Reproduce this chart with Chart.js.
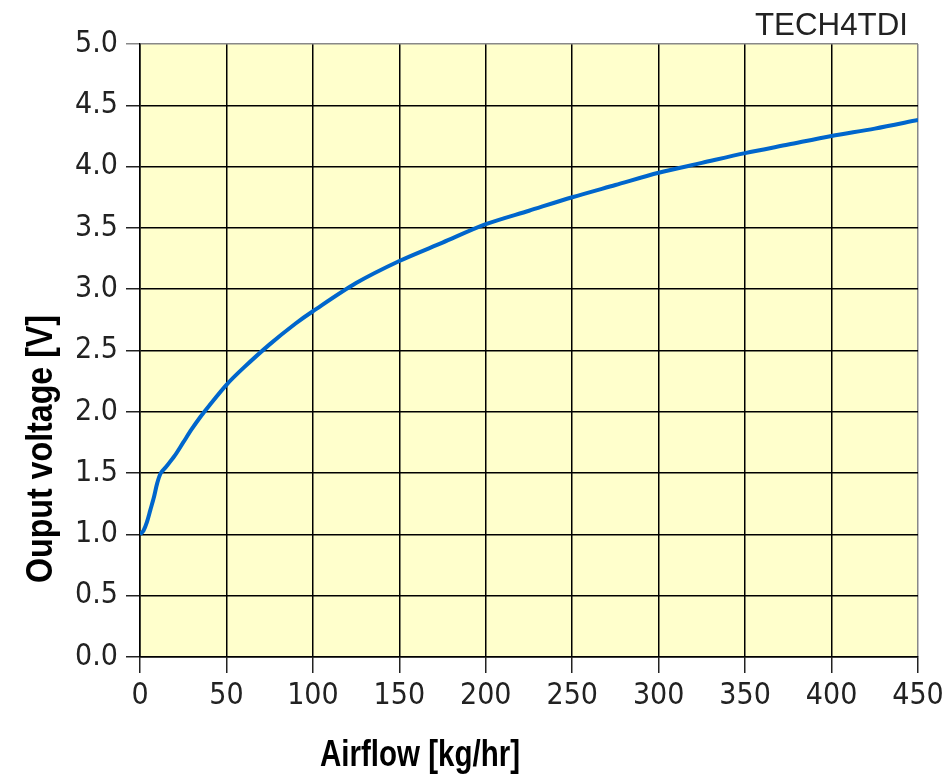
<!DOCTYPE html>
<html>
<head>
<meta charset="utf-8">
<script src="https://cdn.jsdelivr.net/npm/chart.js@4.4.1/dist/chart.umd.min.js"></script>
<style>
html,body{margin:0;padding:0;background:#fff;}
#wrap{width:945px;height:777px;}
</style>
</head>
<body>
<div id="wrap"><canvas id="c" width="945" height="777"></canvas></div>
<script>
const airflow = [0, 2, 4, 6, 8, 10, 12, 15, 20, 25, 30, 35, 40, 50, 60, 75, 90, 100, 125, 150, 175, 200, 225, 250, 275, 300, 325, 350, 375, 400, 425, 450];
const voltage = [1.0, 1.03, 1.1, 1.2, 1.3, 1.42, 1.5, 1.55, 1.64, 1.75, 1.86, 1.96, 2.05, 2.22, 2.36, 2.55, 2.72, 2.82, 3.05, 3.23, 3.38, 3.53, 3.64, 3.75, 3.85, 3.95, 4.03, 4.11, 4.18, 4.25, 4.31, 4.38];
const xTicks = [0, 50, 100, 150, 200, 250, 300, 350, 400, 450];
const yTicks = [0.0, 0.5, 1.0, 1.5, 2.0, 2.5, 3.0, 3.5, 4.0, 4.5, 5.0];
const xTitle = 'Airflow [kg/hr]';
const yTitle = 'Ouput voltage [V]';
const cornerText = 'TECH4TDI';

const tickFont = {family: "'Liberation Sans Narrow', 'Arial Narrow', 'DejaVu Sans Condensed', sans-serif", size: 30};

function fitText(ctx, text, x, y, width, font, color, align) {
  ctx.save();
  ctx.font = font;
  ctx.fillStyle = color;
  ctx.textBaseline = 'alphabetic';
  const w = ctx.measureText(text).width;
  const s = width / w;
  ctx.translate(x, y);
  ctx.scale(s, 1);
  ctx.textAlign = 'left';
  ctx.fillText(text, align === 'right' ? -w : 0, 0);
  ctx.restore();
}

const decor = {
  id: 'decor',
  beforeDraw(chart) {
    const {ctx, chartArea: a} = chart;
    ctx.save();
    ctx.fillStyle = '#FFFFCC';
    ctx.fillRect(a.left, a.top, a.right - a.left, a.bottom - a.top);
    ctx.restore();
  },
  afterDraw(chart) {
    const ctx = chart.ctx;
    fitText(ctx, xTitle, 320, 766, 200, "bold 36px 'Liberation Sans', Arial, sans-serif", '#000');
    ctx.save();
    ctx.translate(52, 583);
    ctx.rotate(-Math.PI / 2);
    fitText(ctx, yTitle, 0, 0, 268, "bold 36px 'Liberation Sans', Arial, sans-serif", '#000');
    ctx.restore();
    fitText(ctx, cornerText, 755, 35, 153, "32px 'Liberation Sans', Arial, sans-serif", '#222');
  }
};

new Chart(document.getElementById('c'), {
  type: 'line',
  data: {
    datasets: [{
      data: airflow.map((x, i) => ({x, y: voltage[i]})),
      borderColor: '#0066CC',
      borderWidth: 4,
      pointRadius: 0,
      tension: 0.3,
      fill: false
    }]
  },
  options: {
    responsive: false,
    animation: false,
    devicePixelRatio: 1,
    layout: {padding: {top: 44, right: 27, left: 0, bottom: 0}},
    plugins: {legend: {display: false}, tooltip: {enabled: false}, title: {display: false}},
    scales: {
      x: {
        type: 'linear', min: 0, max: 450,
        afterFit(scale) { scale.height = 120; scale.paddingLeft = 0; scale.paddingRight = 0; },
        afterBuildTicks(scale) { scale.ticks = xTicks.map(v => ({value: v})); },
        ticks: {font: tickFont, color: '#222', padding: 5, maxRotation: 0, autoSkip: false,
          callback: v => String(v)},
        grid: {
          color: ctx => (ctx.tick && ctx.tick.value === 450) ? '#888' : '#000',
          tickColor: '#222',
          lineWidth: 1.5, tickLength: 16, drawTicks: true
        },
        border: {display: true, color: '#000', width: 1.5}
      },
      y: {
        type: 'linear', min: 0, max: 5,
        afterFit(scale) { scale.width = 140; scale.paddingTop = 0; scale.paddingBottom = 0; },
        afterBuildTicks(scale) { scale.ticks = yTicks.map(v => ({value: v})); },
        ticks: {font: tickFont, color: '#222', padding: 8, autoSkip: false,
          callback: v => Number(v).toFixed(1)},
        grid: {
          color: ctx => (ctx.tick && ctx.tick.value === 5) ? '#888' : '#000',
          tickColor: ctx => (ctx.tick && ctx.tick.value === 5) ? '#888' : '#222',
          lineWidth: 1.5, tickLength: 14, drawTicks: true
        },
        border: {display: true, color: '#000', width: 1.5}
      }
    }
  },
  plugins: [decor]
});
</script>
</body>
</html>
